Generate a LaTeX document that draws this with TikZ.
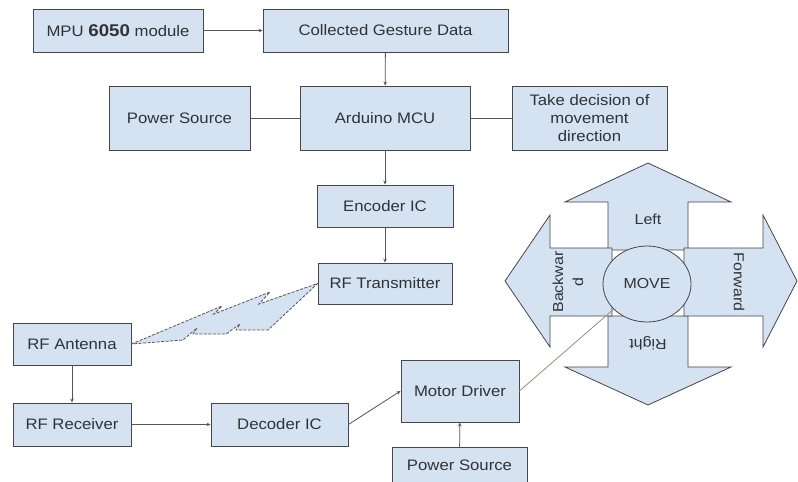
\documentclass[tikz,border=0pt]{standalone}
\usepackage{fontspec}
\setmainfont[FakeStretch=1.1]{Liberation Sans}
\usetikzlibrary{arrows.meta,shapes.geometric}
\definecolor{boxfill}{RGB}{212,226,242}
\definecolor{boxline}{RGB}{70,70,75}
\definecolor{txt}{RGB}{50,50,55}
\definecolor{connc}{RGB}{85,85,85}
\definecolor{tanc}{RGB}{160,140,120}
\begin{document}
\begin{tikzpicture}[x=1pt,y=-1pt,
 box/.style={draw=boxline, line width=0.9pt, fill=boxfill, text=txt, font=\fontsize{15.2}{18}\selectfont, inner sep=0pt, align=center},
 conn/.style={draw=connc, line width=0.8pt, -{Stealth[length=4pt,width=3.5pt]}},
 plainline/.style={draw=connc, line width=0.8pt},
 shp/.style={draw=boxline, line width=0.8pt, fill=boxfill, line join=miter},
 ctext/.style={text=txt, font=\fontsize{14.5}{20}\selectfont, align=center}]
\useasboundingbox[fill=white] (0,0) rectangle (798,482);

% compass arrows
\filldraw[shp] (608,250) -- (608,202) -- (565,202) -- (648,163) -- (731,202) -- (688,202) -- (688,250) -- cycle;
\filldraw[shp] (608,316) -- (608,367) -- (565,367) -- (648,405) -- (731,367) -- (688,367) -- (688,316) -- cycle;
\filldraw[shp] (612,248) -- (550,248) -- (550,215) -- (505,281) -- (550,347) -- (550,316) -- (612,316) -- cycle;
\filldraw[shp] (684,248) -- (763,248) -- (763,215) -- (797,281) -- (763,347) -- (763,316) -- (684,316) -- cycle;
\node[ellipse, draw=boxline, line width=0.8pt, fill=boxfill, minimum width=88pt, minimum height=76pt, inner sep=0pt, ctext] (mv) at (647,284) {MOVE};
\node[ctext] (lt) at (648,219) {Left};
\node[ctext, rotate=180] (rt) at (648,343) {Right};
\node[ctext, rotate=-90] (fw) at (739,282) {Forward};
\node[ctext, rotate=90] (bw) at (568,282) {Backwar\\d};

% boxes
\node[box, minimum width=170pt, minimum height=43pt] (mpu) at (118,30.5) {MPU {\bfseries\fontsize{17}{18}\selectfont 6050} module};
\node[box, minimum width=245pt, minimum height=43pt] (col) at (385.5,30.5) {Collected Gesture Data};
\node[box, minimum width=141pt, minimum height=64pt] (ps1) at (179.5,118) {Power Source};
\node[box, minimum width=170pt, minimum height=64pt] (ard) at (385,118) {Arduino MCU};
\node[box, minimum width=155pt, minimum height=64pt] (dsn) at (589.5,118) {Take decision of\\movement\\direction};
\node[box, minimum width=136pt, minimum height=42pt] (enc) at (385,206) {Encoder IC};
\node[box, minimum width=134pt, minimum height=41pt] (rft) at (385,283.5) {RF Transmitter};
\node[box, minimum width=118pt, minimum height=42pt] (ant) at (72,344) {RF Antenna};
\node[box, minimum width=118pt, minimum height=43pt] (rec) at (72,424.5) {RF Receiver};
\node[box, minimum width=137pt, minimum height=43pt] (dcd) at (279.5,424.5) {Decoder IC};
\node[box, minimum width=118pt, minimum height=62pt] (md) at (460,391) {Motor Driver};
\node[box, minimum width=135pt, minimum height=37pt] (ps2) at (459.5,465.5) {Power Source};

% connectors
\draw[conn] (mpu) -- (col);
\draw[conn] (col) -- (ard);
\draw[plainline] (ps1) -- (ard);
\draw[plainline] (ard) -- (dsn);
\draw[conn] (ard) -- (enc);
\draw[conn] (enc) -- (rft);
\draw[conn] (ant) -- (rec);
\draw[conn] (rec) -- (dcd);
\draw[conn] (dcd.east) -- (md.west);
\draw[conn] (ps2) -- (md);
\draw[draw=tanc, line width=0.8pt] (md.east) -- (mv.217);

% wireless link
\filldraw[draw=connc, fill=boxfill, dash pattern=on 3pt off 1.5pt, line width=0.8pt, line join=miter]
 (ant.east) -- (222,306) -- (214,314) -- (270,292) -- (259,304) -- (rft.west)
 -- (268,330) -- (236,330) -- (240,324) -- (226,334) -- (193,334) -- (197,328) -- (183,340) -- cycle;
\end{tikzpicture}
\end{document}
